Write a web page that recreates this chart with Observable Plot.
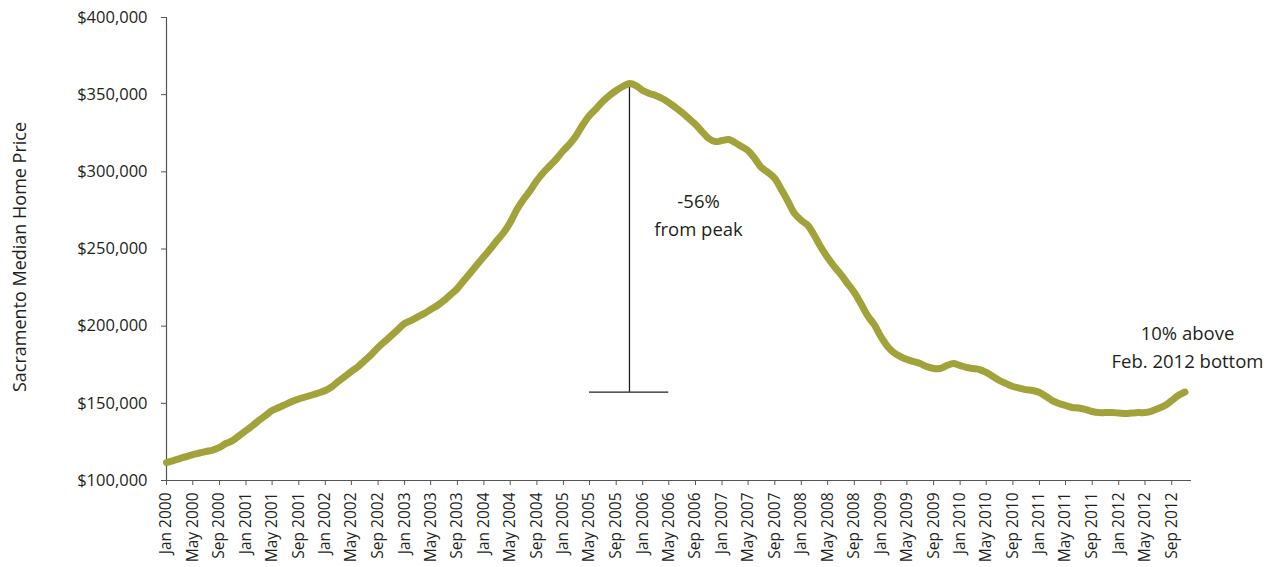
<!DOCTYPE html>
<html>
<head>
<meta charset="utf-8">
<script src="https://cdn.jsdelivr.net/npm/d3@7"></script>
<script src="https://cdn.jsdelivr.net/npm/@observablehq/plot@0.6"></script>
<style>
  html, body { margin: 0; padding: 0; background: #fff; }
  #chart svg { display: block; }
</style>
</head>
<body>
<div id="chart"></div>
<script>
// Monthly median home price, Sacramento, Jan 2000 onward (values in $)
const startMonth = "2000-01-01";
const prices = [
  111600, 112900, 114200, 115500, 116800, 117800, 118800, 119700, 121400, 124000, 125900, 129100,
  132400, 135600, 138900, 142100, 145300, 147300, 149200, 151200, 152800, 154100, 155400, 156700,
  158300, 160900, 164100, 167400, 170600, 173800, 177700, 181600, 186200, 190000, 193900, 197800,
  201700, 203700, 205900, 208200, 210800, 213400, 216600, 220500, 224400, 229600, 234800, 239900,
  245100, 250300, 255500, 260700, 267200, 275600, 282100, 287900, 294400, 299600, 304100, 308600,
  313800, 318400, 323500, 330700, 336500, 341000, 345600, 349500, 352700, 355300, 357200, 355900,
  352700, 350800, 349500, 347500, 344900, 341700, 338400, 334600, 330700, 326100, 321600, 319600,
  320300, 320900, 319000, 316400, 313800, 308600, 302800, 299600, 295700, 288500, 280800, 273000,
  268500, 265200, 258700, 251000, 244500, 238600, 233500, 227600, 221800, 214700, 206900, 201100,
  193300, 186800, 182900, 180300, 178400, 177100, 175800, 173800, 172600, 172600, 174500, 175800,
  174500, 173200, 172600, 171900, 170000, 167400, 164800, 162800, 160900, 159900, 158900, 158300,
  157000, 154400, 151800, 149900, 148600, 147300, 147000, 146000, 144700, 144000, 144000, 144000,
  143700, 143400, 143700, 144000, 144000, 145000, 146600, 148600, 151800, 155100, 157300
];

const yTicks = [100000, 150000, 200000, 250000, 300000, 350000, 400000];
const xDomain = ["2000-01-01", "2012-12-01"];
const lastTick = "2012-09-01";
const peakDate = "2005-11-01";
const peakValue = 357200;
const dropValue = 157200;            // -56% from peak
const dropBarStart = "2005-05-01";
const dropBarEnd = "2006-05-01";
const note1 = {date: "2006-09-15", value: 273500, text: "-56%\nfrom peak"};
const note2 = {date: "2012-12-01", value: 188000, text: "10% above\nFeb. 2012 bottom"};
const yTitle = "Sacramento Median Home Price";

const data = prices.map((p, i) => ({date: d3.utcMonth.offset(new Date(startMonth), i), price: p}));
const xTicks = d3.utcMonth.every(4).range(new Date(xDomain[0]), d3.utcDay.offset(new Date(lastTick), 1));

const FONT = "'Open Sans', sans-serif";
const INK = "#231f20";

const chart = Plot.plot({
  width: 1279,
  height: 567,
  marginLeft: 166,
  marginRight: 88,
  marginTop: 17,
  marginBottom: 87,
  style: {fontFamily: FONT, color: INK, background: "#fff"},
  x: {type: "utc", domain: xDomain.map(d => new Date(d))},
  y: {domain: [100000, 400000]},
  marks: [
    Plot.axisY({
      ticks: yTicks,
      tickSize: 5,
      tickPadding: 14,
      tickFormat: d => "$" + d3.format(",")(d),
      fontSize: 16.5,
      stroke: "#555",
      fill: INK,
      label: null
    }),
    Plot.axisX({
      ticks: xTicks,
      tickSize: 5,
      tickPadding: 7,
      tickRotate: -90,
      tickFormat: d3.utcFormat("%b %Y"),
      fontSize: 15.5,
      stroke: "#555",
      fill: INK,
      label: null
    }),
    Plot.text([yTitle], {frameAnchor: "left", textAnchor: "middle", rotate: -90, dx: -146, dy: 8, fontSize: 18, fill: INK}),
    Plot.ruleX([new Date(xDomain[0])], {stroke: "#555", strokeWidth: 1.2}),
    Plot.ruleY([100000], {stroke: "#555", strokeWidth: 1.2}),
    Plot.ruleX([new Date(peakDate)], {y1: dropValue, y2: peakValue, stroke: INK, strokeWidth: 1.3}),
    Plot.ruleY([dropValue], {x1: new Date(dropBarStart), x2: new Date(dropBarEnd), stroke: INK, strokeWidth: 1.3}),
    Plot.line(data, {x: "date", y: "price", stroke: "#a2a23a", strokeWidth: 7, strokeLinejoin: "round", strokeLinecap: "round", curve: "catmull-rom"}),
    Plot.text([note1], {x: d => new Date(d.date), y: "value", text: "text", fontSize: 18.5, lineHeight: 1.55, fill: INK}),
    Plot.text([note2], {x: d => new Date(d.date), y: "value", text: "text", fontSize: 18.5, lineHeight: 1.55, dx: -4, fill: INK})
  ]
});
document.getElementById("chart").appendChild(chart);
</script>
</body>
</html>
